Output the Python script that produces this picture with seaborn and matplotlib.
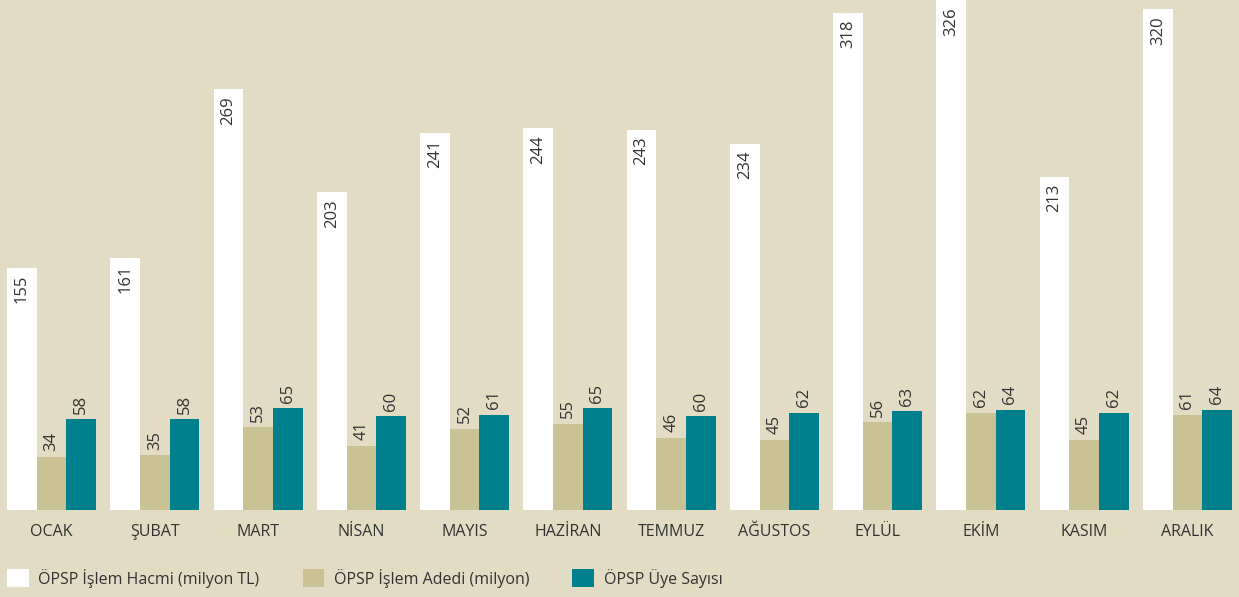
import numpy as np
import pandas as pd
from matplotlib import pyplot as plt
from matplotlib.patches import Patch
import seaborn as sns

# data
months = ['OCAK', 'ŞUBAT', 'MART', 'NİSAN', 'MAYIS', 'HAZİRAN',
          'TEMMUZ', 'AĞUSTOS', 'EYLÜL', 'EKİM', 'KASIM', 'ARALIK']
hacim = [155, 161, 269, 203, 241, 244, 243, 234, 318, 326, 213, 320]
adet = [34, 35, 53, 41, 52, 55, 46, 45, 56, 62, 45, 61]
uye = [58, 58, 65, 60, 61, 65, 60, 62, 63, 64, 62, 64]
series = ['ÖPSP İşlem Hacmi (milyon TL)', 'ÖPSP İşlem Adedi (milyon)', 'ÖPSP Üye Sayısı']

bg = '#e2dcc4'
colors = ['#ffffff', '#c9c295', '#007f8c']
txt = '#333333'

sns.set_style("white")
plt.rcParams['font.family'] = ['Open Sans', 'DejaVu Sans']

df = pd.DataFrame({
    'month': months * 3,
    'value': hacim + adet + uye,
    'series': [series[0]] * 12 + [series[1]] * 12 + [series[2]] * 12,
})

fig = plt.figure(figsize=(12.39, 5.97), dpi=100, facecolor=bg)
ax = fig.add_axes([0, 87 / 597, 1, 510 / 597])
ax.set_facecolor(bg)

sns.barplot(data=df, x='month', y='value', hue='series', palette=colors,
            saturation=1, width=0.86, gap=0, legend=False, linewidth=0,
            edgecolor='none', ax=ax)

ax.set_xlim(-0.5, 11.5)
ax.set_ylim(0, 326)
for s in ax.spines.values():
    s.set_visible(False)
ax.set_yticks([])
ax.set_xlabel('')
ax.set_ylabel('')
ax.tick_params(axis='x', length=0, pad=10, labelsize=11.5, labelcolor=txt)

# value labels
for i, cont in enumerate(ax.containers):
    for bar in cont:
        x = bar.get_x() + bar.get_width() / 2
        h = bar.get_height()
        if i == 0:
            ax.annotate(f'{int(round(h))}', (x, h), xytext=(0, -5),
                        textcoords='offset points', rotation=90,
                        ha='center', va='top', fontsize=12, color=txt)
        else:
            ax.annotate(f'{int(round(h))}', (x, h), xytext=(0, 4),
                        textcoords='offset points', rotation=90,
                        ha='center', va='bottom', fontsize=12, color=txt)

handles = [Patch(facecolor=c, edgecolor='none') for c in colors]
fig.legend(handles, series, loc='center left', bbox_to_anchor=(0.0, 1 - 578 / 597),
           ncol=3, frameon=False, fontsize=11.5, labelcolor=txt,
           handlelength=1.35, handleheight=1.35, handletextpad=0.6,
           columnspacing=2.7, borderaxespad=0.05)

fig.savefig('out.png', dpi=100, facecolor=bg)
